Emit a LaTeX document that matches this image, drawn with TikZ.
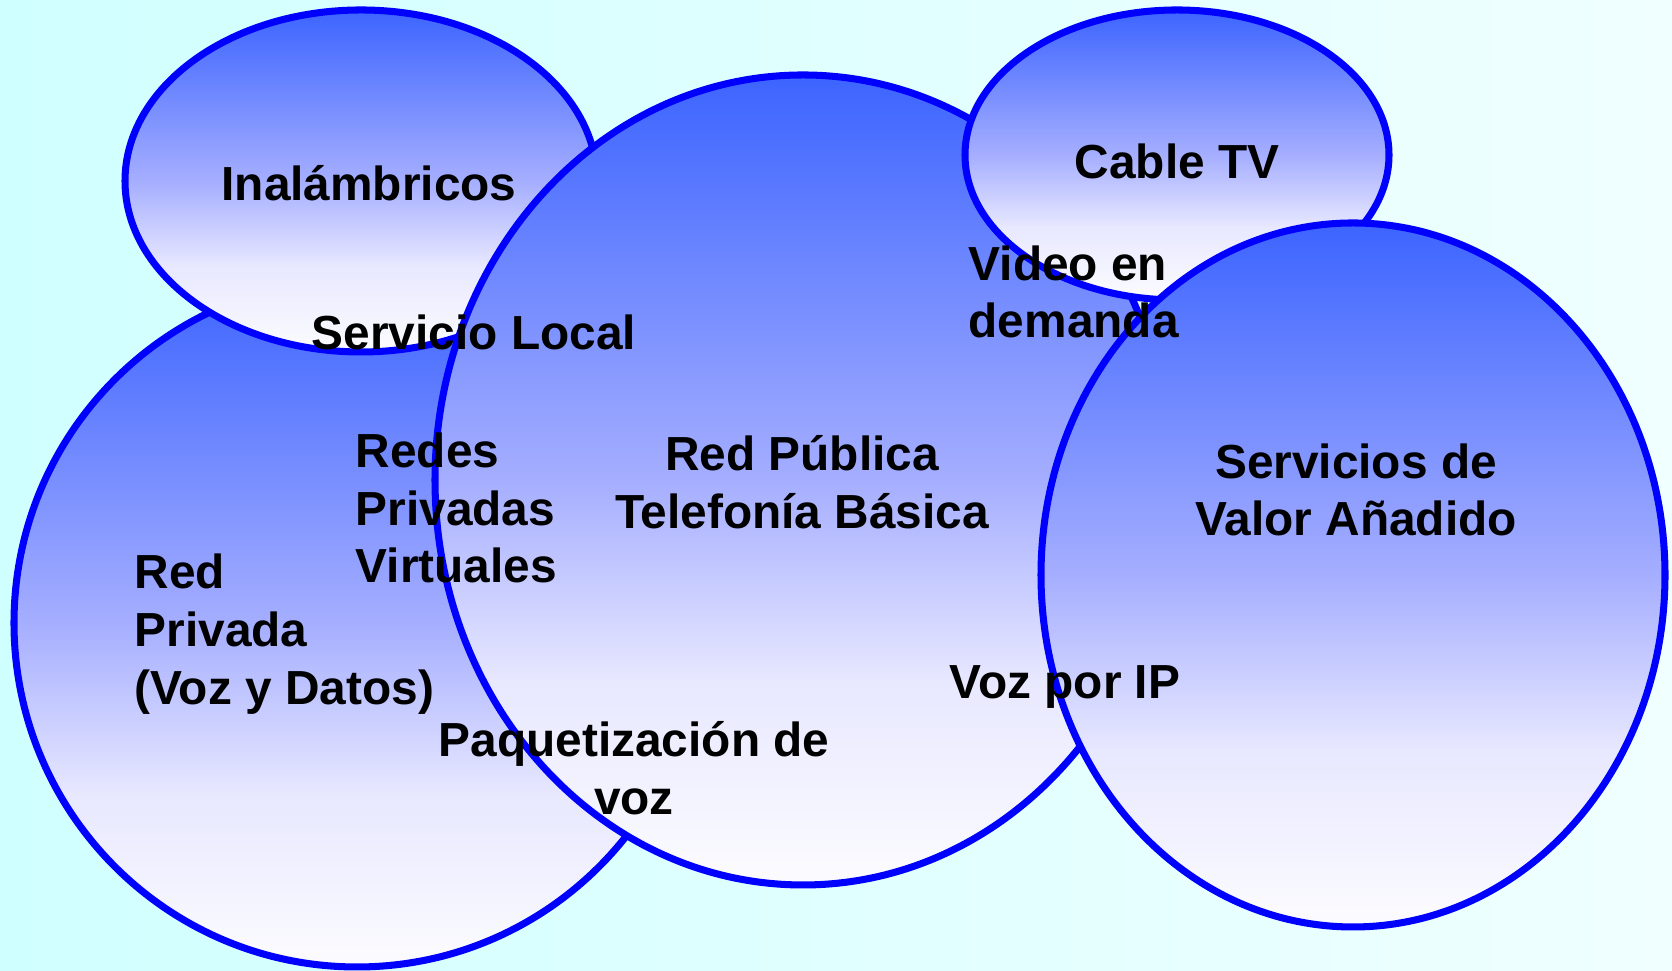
\documentclass[tikz,border=0pt]{standalone}
\usepackage{fontspec}
\setmainfont{Liberation Sans}
\definecolor{fondoA}{RGB}{208,255,255}
\definecolor{fondoB}{RGB}{240,255,255}
\definecolor{azulsup}{RGB}{60,100,255}
\definecolor{azulmedio}{RGB}{165,174,255}
\definecolor{azulclaro}{RGB}{232,232,255}
\definecolor{azulinf}{RGB}{252,252,255}
\pgfdeclareverticalshading{degradado}{100bp}{color(0bp)=(azulinf); color(25bp)=(azulinf);
  color(37.5bp)=(azulclaro); color(50bp)=(azulmedio); color(75bp)=(azulsup); color(100bp)=(azulsup)}
\begin{document}
\begin{tikzpicture}[x=0.01cm, y=0.01cm, line join=round, line cap=round,
  font=\fontsize{13.6}{16.4}\selectfont\bfseries,
  zona/.style={draw=blue, line width=2pt, shade, shading=degradado},
  rotulo/.style={inner sep=0pt, align=center},
  rotuloizq/.style={inner sep=0pt, align=left, anchor=west}]
 \def\ancho{1672}\def\alto{971}
 % fondo
 \fill[left color=fondoA, right color=fondoB] (0,0) rectangle (\ancho,\alto);
 \useasboundingbox (0,0) rectangle (\ancho,\alto);
 % zonas
 \path[zona] (357,348) ellipse [x radius=343, y radius=344];
 \path[zona] (361,790) ellipse [x radius=236, y radius=171];
 \path[zona] (803,491) ellipse [x radius=368, y radius=405];
 \path[zona] (1177,816) ellipse [x radius=212, y radius=145];
 \path[zona] (1353,396) ellipse [x radius=312, y radius=352];
 % textos
 \node[rotulo] (inal) at (369,788) {Inalámbricos};
 \node[rotulo] (local) at (474,639) {Servicio Local};
 \node[rotuloizq] (rpv) at (355,463) {Redes\\Privadas\\Virtuales};
 \node[rotulo] (publica) at (802,489) {Red Pública\\Telefonía Básica};
 \node[rotuloizq] (privada) at (134,337) {Red\\Privada\\(Voz y Datos)};
 \node[rotulo] (paquete) at (634,203) {Paquetización de\\voz};
 \node[rotulo] (cable) at (1177,810) {Cable TV};
 \node[rotuloizq] (video) at (968,679) {Video en\\demanda};
 \node[rotulo] (valor) at (1356,481) {Servicios de\\Valor Añadido};
 \node[rotulo] (vozip) at (1065,284) {Voz por IP};
\end{tikzpicture}
\end{document}
